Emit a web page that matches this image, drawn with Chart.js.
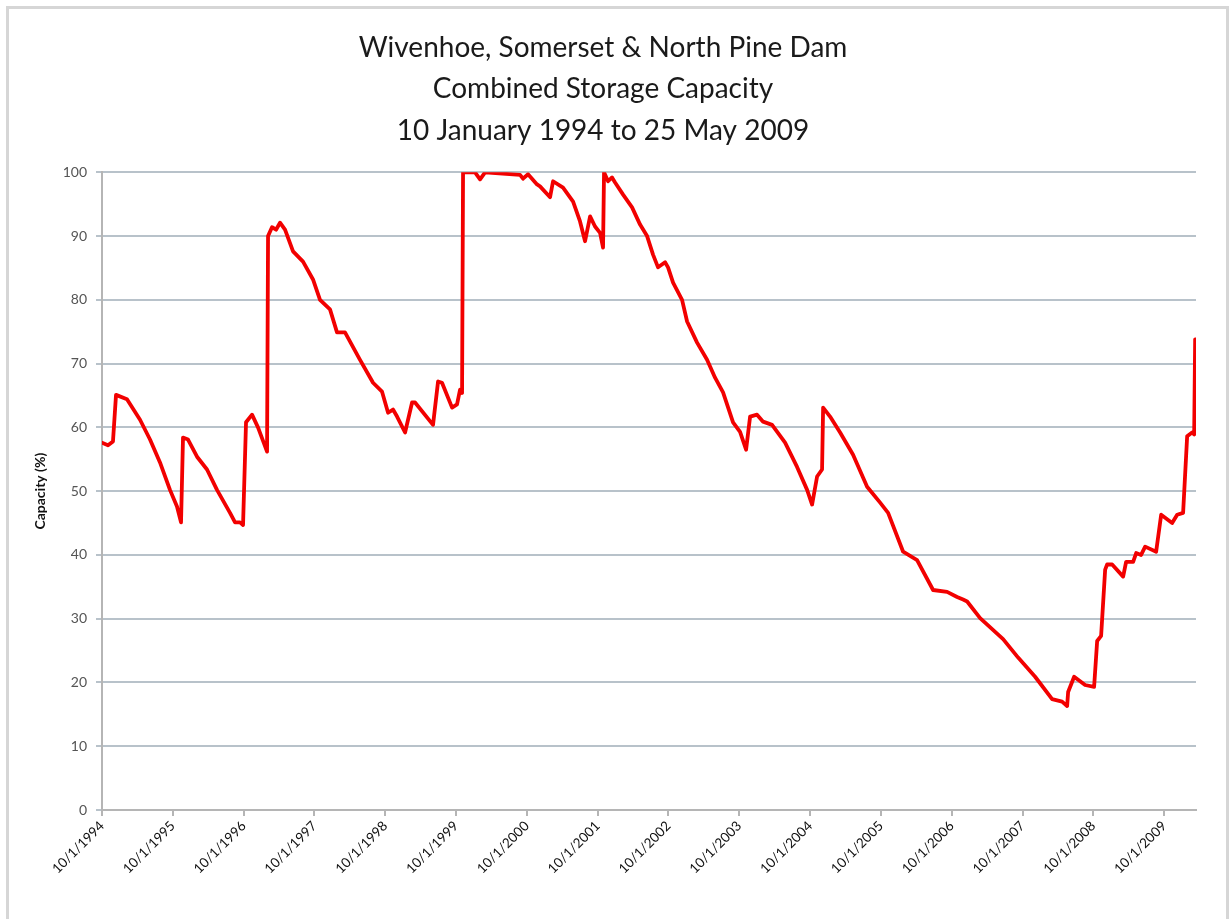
<!DOCTYPE html>
<html>
<head>
<meta charset="utf-8">
<script src="https://cdn.jsdelivr.net/npm/chart.js@4.4.1/dist/chart.umd.min.js"></script>
<style>
  html, body { margin: 0; padding: 0; background: #fff; overflow: hidden; }
  #wrap { position: relative; width: 1229px; height: 919px; }
  #frame { position: absolute; left: 6px; top: 6px; width: 1217px; height: 930px;
           border: 3px solid #d6d6d6; border-bottom: none; pointer-events: none; }
  canvas { position: absolute; left: 0; top: 0; }
</style>
</head>
<body>
<div id="wrap">
  <canvas id="chart" width="1229" height="919"></canvas>
  <div id="frame"></div>
</div>
<script>
// years elapsed since 10 January 1994
const yearsSinceStart = [
  0.000, 0.085, 0.155, 0.198, 0.353, 0.537, 0.678, 0.819, 0.960, 1.059,
  1.116, 1.144, 1.215, 1.342, 1.483, 1.624, 1.808, 1.879, 1.949, 1.992,
  2.034, 2.119, 2.203, 2.331, 2.345, 2.401, 2.458, 2.514, 2.585, 2.698,
  2.839, 2.980, 3.079, 3.220, 3.319, 3.432, 3.644, 3.828, 3.955, 4.040,
  4.110, 4.167, 4.280, 4.379, 4.421, 4.675, 4.746, 4.802, 4.944, 5.014,
  5.056, 5.085, 5.099, 5.268, 5.339, 5.410, 5.904, 5.946, 6.017, 6.144,
  6.186, 6.328, 6.370, 6.511, 6.653, 6.751, 6.822, 6.893, 6.963, 7.034,
  7.076, 7.090, 7.147, 7.203, 7.246, 7.359, 7.486, 7.599, 7.698, 7.782,
  7.853, 7.952, 7.994, 8.065, 8.192, 8.263, 8.404, 8.545, 8.658, 8.771,
  8.912, 9.011, 9.096, 9.153, 9.251, 9.336, 9.463, 9.647, 9.816, 9.958,
  10.028, 10.099, 10.169, 10.184, 10.282, 10.424, 10.607, 10.805, 10.989, 11.102,
  11.314, 11.511, 11.737, 11.935, 12.076, 12.161, 12.218, 12.401, 12.726, 12.938,
  13.178, 13.418, 13.559, 13.630, 13.644, 13.729, 13.884, 14.011, 14.054, 14.110,
  14.167, 14.195, 14.266, 14.421, 14.463, 14.562, 14.605, 14.675, 14.732, 14.887,
  14.958, 15.113, 15.184, 15.268, 15.325, 15.395, 15.424, 15.438
];

// combined storage capacity, %
const capacity = [
  57.6, 57.2, 57.8, 65.1, 64.4, 61.2, 58.1, 54.5, 50.2, 47.6,
  45.1, 58.4, 58.1, 55.4, 53.4, 50.2, 46.6, 45.1, 45.1, 44.7,
  60.8, 62.0, 60.0, 56.2, 90.0, 91.4, 91.0, 92.1, 91.0, 87.6,
  86.0, 83.2, 80.0, 78.5, 74.9, 74.9, 70.6, 67.0, 65.6, 62.3,
  62.8, 61.7, 59.2, 63.9, 63.9, 60.4, 67.2, 67.0, 63.1, 63.6,
  65.9, 65.4, 100, 100, 98.9, 100, 99.6, 99.0, 99.7, 98.1,
  97.8, 96.1, 98.6, 97.6, 95.4, 92.3, 89.2, 93.1, 91.5, 90.5,
  88.2, 100, 98.6, 99.2, 98.4, 96.5, 94.5, 91.8, 90.0, 87.1,
  85.1, 85.9, 85.1, 82.7, 80.0, 76.6, 73.3, 70.6, 67.8, 65.5,
  60.8, 59.3, 56.5, 61.7, 62.0, 60.9, 60.4, 57.6, 53.8, 50.2,
  47.9, 52.3, 53.4, 63.1, 61.7, 59.2, 55.7, 50.7, 48.2, 46.6,
  40.5, 39.2, 34.5, 34.2, 33.4, 33.0, 32.7, 30.1, 26.8, 23.9,
  20.9, 17.4, 17.0, 16.3, 18.5, 20.9, 19.6, 19.3, 26.5, 27.3,
  37.7, 38.5, 38.5, 36.6, 38.9, 38.9, 40.3, 40.0, 41.3, 40.5,
  46.3, 45.0, 46.3, 46.6, 58.6, 59.2, 58.9, 73.8
];

const firstYear = 1994;
const tickYears = [0, 1, 2, 3, 4, 5, 6, 7, 8, 9, 10, 11, 12, 13, 14, 15];
const titleLines = [
  'Wivenhoe, Somerset & North Pine Dam',
  'Combined Storage Capacity',
  '10 January 1994 to 25 May 2009'
];

const points = yearsSinceStart.map((t, i) => ({ x: t, y: capacity[i] }));

new Chart(document.getElementById('chart'), {
  type: 'line',
  data: {
    datasets: [{
      data: points,
      borderColor: '#f20000',
      borderWidth: 3.8,
      pointRadius: 0,
      tension: 0,
      borderJoinStyle: 'round',
      borderCapStyle: 'round'
    }]
  },
  options: {
    responsive: false,
    animation: false,
    devicePixelRatio: 1,
    layout: { padding: { left: 10, right: 33, top: 0, bottom: 0 } },
    plugins: {
      legend: { display: false },
      tooltip: { enabled: false },
      title: {
        display: true,
        text: titleLines,
        color: '#1a1a1a',
        font: { family: 'Lato', size: 28, weight: 'normal', lineHeight: 1.48 },
        padding: { top: 27, bottom: 21 }
      }
    },
    scales: {
      x: {
        type: 'linear',
        min: 0,
        max: 15.45,
        afterBuildTicks: axis => { axis.ticks = tickYears.map(v => ({ value: v })); },
        afterFit: axis => { axis.height = 109; },
        ticks: {
          autoSkip: false,
          maxRotation: 45,
          minRotation: 45,
          padding: 2,
          color: '#111',
          font: { family: 'Lato', size: 13.5 },
          callback: v => '10/1/' + (firstYear + v)
        },
        grid: {
          drawOnChartArea: false,
          drawTicks: true,
          tickLength: 6,
          color: '#b5b5b5',
          lineWidth: 2
        },
        border: { display: true, color: '#b5b5b5', width: 2 }
      },
      y: {
        min: 0,
        max: 100,
        afterFit: axis => { axis.width = 92; },
        ticks: {
          stepSize: 10,
          padding: 9,
          color: '#555',
          font: { family: 'Lato', size: 14 }
        },
        grid: {
          color: '#b8c2ca',
          lineWidth: 2,
          tickLength: 6
        },
        border: { display: true, color: '#b5b5b5', width: 2 },
        title: {
          display: true,
          text: 'Capacity (%)',
          color: '#111',
          font: { family: 'Lato', size: 14, weight: 'bold' },
          padding: { top: 22, bottom: 0 }
        }
      }
    }
  }
});
</script>
</body>
</html>
